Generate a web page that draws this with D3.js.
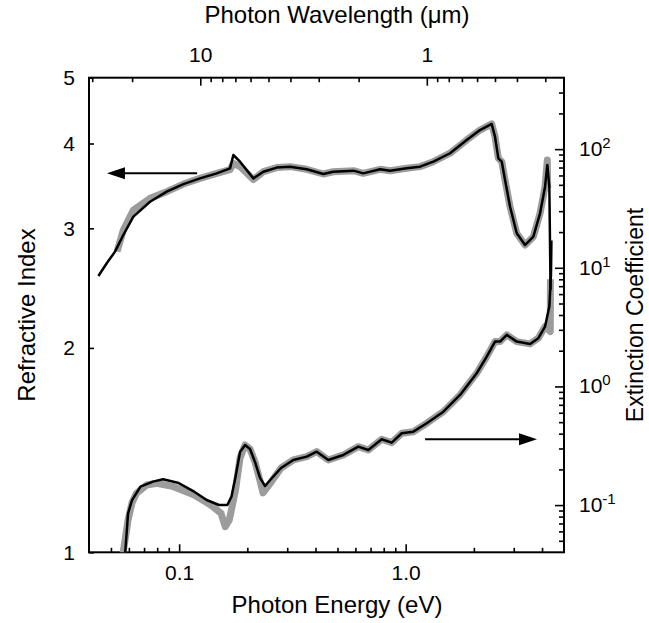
<!DOCTYPE html>
<html>
<head>
<meta charset="utf-8">
<script src="https://cdn.jsdelivr.net/npm/d3@7"></script>
<style>
  body { margin: 0; background: #fff; }
  svg { display: block; font-family: "Liberation Sans", Arial, Helvetica, sans-serif; }
</style>
</head>
<body>
<svg id="chart" width="649" height="623"></svg>
<script>
// photon energy (eV) -> wavelength (um)
const hc = 1.2398

// refractive index, thin black curve
const nEnergy = [0.0440, 0.0479, 0.0521, 0.0567, 0.0628, 0.0744, 0.0881, 0.1044, 0.1236, 0.1466, 0.1678, 0.1735, 0.1857, 0.2126, 0.2353, 0.2697, 0.3087, 0.3658, 0.433, 0.479, 0.588, 0.650, 0.771, 0.853, 1.011, 1.157, 1.325, 1.570, 1.860, 2.129, 2.398, 2.480, 2.565, 2.656, 2.746, 2.890, 3.093, 3.365, 3.662, 3.920, 4.124, 4.220, 4.308, 4.362]
const nModel = [2.552, 2.665, 2.772, 2.933, 3.121, 3.283, 3.397, 3.486, 3.554, 3.615, 3.677, 3.847, 3.761, 3.554, 3.635, 3.686, 3.698, 3.665, 3.607, 3.635, 3.648, 3.615, 3.665, 3.648, 3.677, 3.698, 3.761, 3.870, 4.049, 4.187, 4.274, 4.093, 3.804, 3.761, 3.534, 3.228, 2.950, 2.835, 2.916, 3.157, 3.455, 3.719, 3.455, 2.434]

// refractive index, thick gray curve
const nMeasEnergy = [0.0532, 0.0567, 0.0628, 0.0744, 0.0881, 0.1044, 0.1236, 0.1466, 0.1678, 0.1735, 0.1857, 0.2126, 0.2353, 0.2697, 0.3087, 0.3658, 0.433, 0.479, 0.588, 0.650, 0.771, 0.853, 1.011, 1.157, 1.325, 1.570, 1.860, 2.129, 2.398, 2.480, 2.565, 2.656, 2.746, 2.890, 3.093, 3.365, 3.662, 3.920, 4.124, 4.220, 4.235]
const nMeas = [2.772, 2.983, 3.192, 3.321, 3.397, 3.486, 3.554, 3.615, 3.660, 3.740, 3.700, 3.540, 3.635, 3.686, 3.698, 3.665, 3.607, 3.635, 3.648, 3.615, 3.665, 3.648, 3.677, 3.698, 3.761, 3.870, 4.049, 4.187, 4.274, 4.093, 3.804, 3.761, 3.534, 3.228, 2.950, 2.835, 2.916, 3.157, 3.455, 3.783, 3.440]

// extinction coefficient, thin black curve
const kEnergy = [0.0577, 0.0595, 0.0620, 0.0675, 0.0766, 0.0850, 0.0986, 0.1166, 0.1322, 0.1500, 0.1632, 0.1702, 0.1774, 0.1857, 0.1954, 0.2055, 0.2162, 0.2276, 0.2394, 0.2570, 0.2817, 0.3192, 0.3658, 0.4049, 0.4556, 0.5308, 0.618, 0.684, 0.784, 0.868, 0.961, 1.081, 1.239, 1.467, 1.738, 2.059, 2.280, 2.480, 2.610, 2.795, 3.093, 3.540, 3.852, 4.124, 4.308, 4.380, 4.400]
const kModel = [0.038, 0.0853, 0.1104, 0.1430, 0.1576, 0.1650, 0.1545, 0.1297, 0.1104, 0.1002, 0.1002, 0.1178, 0.1736, 0.2804, 0.3212, 0.2972, 0.2309, 0.1693, 0.1449, 0.1693, 0.2055, 0.2400, 0.2560, 0.2821, 0.2400, 0.2646, 0.3108, 0.2915, 0.3588, 0.3359, 0.4031, 0.4157, 0.4896, 0.613, 0.848, 1.292, 1.784, 2.387, 2.387, 2.719, 2.387, 2.282, 2.550, 3.194, 4.708, 8.7, 17]

// extinction coefficient, thick gray curve
const kMeasEnergy = [0.0564, 0.0595, 0.0619, 0.0648, 0.0719, 0.0798, 0.0945, 0.1166, 0.1378, 0.1530, 0.1598, 0.1665, 0.1774, 0.1857, 0.1954, 0.2055, 0.2162, 0.2276, 0.2346, 0.2570, 0.2817, 0.3192, 0.3658, 0.4049, 0.4556, 0.5308, 0.618, 0.684, 0.784, 0.868, 0.961, 1.081, 1.239, 1.467, 1.738, 2.059, 2.280, 2.480, 2.610, 2.795, 3.093, 3.540, 3.852, 4.124, 4.350, 4.355]
const kMeas = [0.038, 0.0749, 0.1042, 0.1258, 0.1477, 0.1527, 0.1430, 0.1217, 0.1002, 0.0853, 0.0658, 0.0749, 0.1341, 0.25, 0.3212, 0.2972, 0.2309, 0.160, 0.1265, 0.160, 0.2055, 0.2400, 0.2560, 0.2821, 0.2400, 0.2646, 0.3108, 0.2915, 0.3588, 0.3359, 0.4031, 0.4157, 0.4896, 0.613, 0.848, 1.292, 1.784, 2.387, 2.387, 2.719, 2.387, 2.282, 2.550, 3.194, 2.9, 8]

// ticks
const energyMajor = [0.1, 1.0]
const energyMinor = [0.05, 0.06, 0.07, 0.08, 0.09, 0.2, 0.3, 0.4, 0.5, 0.6, 0.7, 0.8, 0.9, 2, 3, 4]
const waveMajor = [10, 1]
const waveMinor = [30, 20, 9, 8, 7, 6, 5, 4, 3, 2, 0.9, 0.8, 0.7, 0.6, 0.5, 0.4, 0.3]
const nTicks = [1, 2, 3, 4, 5]
const kMajor = [0.1, 1, 10, 100]
const kMinor = [0.05, 0.06, 0.07, 0.08, 0.09, 0.2, 0.3, 0.4, 0.5, 0.6, 0.7, 0.8, 0.9,
  2, 3, 4, 5, 6, 7, 8, 9, 20, 30, 40, 50, 60, 70, 80, 90, 200, 300]
const kExponents = ["-1", "0", "1", "2"]

// arrows: [from energy, to energy, value]
const nArrow = [0.120, 0.048, 3.615]
const kArrow = [1.218, 3.80, 0.359]

const margin = { top: 77.7, right: 85, bottom: 70.7, left: 89 }
const width = 649 - margin.left - margin.right
const height = 623 - margin.top - margin.bottom

const svg = d3.select("#chart")
const g = svg.append("g").attr("transform", `translate(${margin.left},${margin.top})`)

const x = d3.scaleLog().domain([0.04, 5]).range([0, width])
const xTop = d3.scaleLog().domain([hc / 0.04, hc / 5]).range([0, width])
const yN = d3.scaleLog().domain([1, 5]).range([height, 0])
const yK = d3.scaleLog().domain([0.04, 400]).range([height, 0])

g.append("clipPath").attr("id", "plot-clip")
  .append("rect").attr("width", width).attr("height", height)

const styleAxis = sel => {
  sel.select(".domain").remove()
  sel.selectAll(".tick line").attr("stroke", "#000").attr("stroke-width", 1.6)
  sel.selectAll(".tick text").attr("fill", "#000").style("font-size", "21px")
    .style("font-family", '"Liberation Sans", Arial, sans-serif')
}

// bottom: photon energy
g.append("g").attr("transform", `translate(0,${height})`)
  .call(d3.axisBottom(x).tickValues(energyMinor).tickSize(-4.5).tickFormat(""))
  .call(styleAxis)
g.append("g").attr("transform", `translate(0,${height})`)
  .call(d3.axisBottom(x).tickValues(energyMajor).tickSize(-8).tickPadding(13).tickFormat(d3.format(".1f")))
  .call(styleAxis)

// top: photon wavelength
g.append("g")
  .call(d3.axisTop(xTop).tickValues(waveMinor).tickSize(-4.5).tickFormat(""))
  .call(styleAxis)
g.append("g")
  .call(d3.axisTop(xTop).tickValues(waveMajor).tickSize(-8).tickPadding(16).tickFormat(d3.format("d")))
  .call(styleAxis)

// left: refractive index
g.append("g")
  .call(d3.axisLeft(yN).tickValues(nTicks).tickSize(-5).tickPadding(14).tickFormat(d3.format("d")))
  .call(styleAxis)

// right: extinction coefficient
g.append("g").attr("transform", `translate(${width},0)`)
  .call(d3.axisRight(yK).tickValues(kMinor).tickSize(-5).tickFormat(""))
  .call(styleAxis)
const kAxis = g.append("g").attr("transform", `translate(${width},0)`)
  .call(d3.axisRight(yK).tickValues(kMajor).tickSize(-9).tickFormat(""))
  .call(styleAxis)
kAxis.selectAll(".tick text").remove()
kAxis.selectAll(".tick").append("text")
  .attr("x", 15).attr("y", 6.5)
  .attr("fill", "#000")
  .style("font-size", "21px")
  .each(function (d, i) {
    const t = d3.select(this)
    t.append("tspan").text("10")
    t.append("tspan").attr("dy", -8).style("font-size", "15px").text(kExponents[i])
  })

// frame
g.append("rect")
  .attr("width", width).attr("height", height)
  .attr("fill", "none").attr("stroke", "#000").attr("stroke-width", 2)

// curves
const lineN = d3.line().x(d => x(d[0])).y(d => yN(d[1]))
const lineK = d3.line().x(d => x(d[0])).y(d => yK(d[1]))
const curves = g.append("g").attr("clip-path", "url(#plot-clip)")

const series = [
  { d: lineN(d3.zip(nMeasEnergy, nMeas)), color: "#9c9c9c", w: 7 },
  { d: lineK(d3.zip(kMeasEnergy, kMeas)), color: "#9c9c9c", w: 7 },
  { d: lineN(d3.zip(nEnergy, nModel)), color: "#000", w: 2.5 },
  { d: lineK(d3.zip(kEnergy, kModel)), color: "#000", w: 2.5 },
]
curves.selectAll("path").data(series).join("path")
  .attr("d", s => s.d)
  .attr("fill", "none")
  .attr("stroke", s => s.color)
  .attr("stroke-width", s => s.w)
  .attr("stroke-linejoin", "round")

// arrows
const arrow = (x0, x1, y) => {
  const dir = Math.sign(x1 - x0)
  const head = 18
  g.append("line")
    .attr("x1", x0).attr("x2", x1 - dir * head + dir * 2).attr("y1", y).attr("y2", y)
    .attr("stroke", "#000").attr("stroke-width", 2)
  g.append("path")
    .attr("d", `M${x1},${y}L${x1 - dir * head},${y - 6}L${x1 - dir * head},${y + 6}Z`)
    .attr("fill", "#000")
}
arrow(x(nArrow[0]), x(nArrow[1]), yN(nArrow[2]))
arrow(x(kArrow[0]), x(kArrow[1]), yK(kArrow[2]))

// axis titles
svg.append("text")
  .attr("x", 337).attr("y", 612.5)
  .attr("text-anchor", "middle").style("font-size", "24px")
  .text("Photon Energy (eV)")
svg.append("text")
  .attr("x", 337).attr("y", 22.5)
  .attr("text-anchor", "middle").style("font-size", "24px")
  .text("Photon Wavelength (\u03bcm)")
svg.append("text")
  .attr("transform", `translate(35,${margin.top + height / 2}) rotate(-90)`)
  .attr("text-anchor", "middle").style("font-size", "24px")
  .text("Refractive Index")
svg.append("text")
  .attr("transform", `translate(643,${margin.top + height / 2}) rotate(-90)`)
  .attr("text-anchor", "middle").style("font-size", "23px")
  .text("Extinction Coefficient")
</script>
</body>
</html>
